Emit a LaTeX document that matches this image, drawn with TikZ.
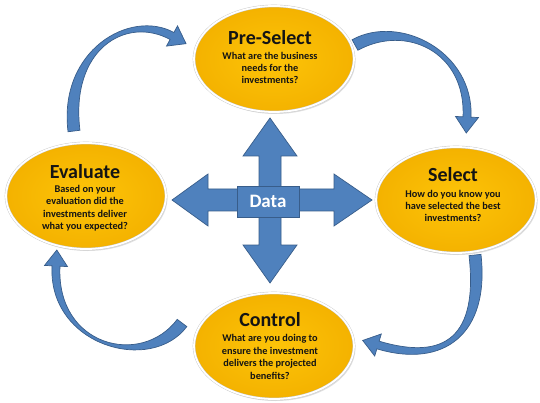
\documentclass[tikz,border=0pt]{standalone}
\usepackage{fontspec}
\setmainfont{Carlito}
\usetikzlibrary{shapes.geometric,calc,shadows}
\definecolor{goldin}{RGB}{253,196,8}
\definecolor{goldout}{RGB}{244,178,0}
\definecolor{bluefill}{RGB}{79,129,189}
\definecolor{blueline}{RGB}{56,93,138}
\definecolor{txt}{RGB}{20,20,20}
\tikzset{
  goldell/.style={ellipse, minimum width=160pt, minimum height=106pt, inner sep=0pt,
    inner color=goldin, outer color=goldout, draw=black!22, double=white, double distance=1.8pt,
    line width=0.4pt, drop shadow={opacity=0.25, shadow xshift=1.5pt, shadow yshift=-2pt}},
  titletext/.style={font=\fontsize{20}{24}\selectfont\bfseries, text=txt, inner sep=0pt},
  bodytext/.style={font=\fontsize{10.3}{12.4}\selectfont\bfseries, text=txt, align=center, inner sep=0pt},
  bluefig/.style={fill=bluefill, draw=blueline, line width=0.7pt, line join=miter},
  databox/.style={bluefig, minimum width=62pt, minimum height=31pt, inner sep=0pt,
    text=white, font=\fontsize{19}{21}\selectfont\bfseries}
}
\newcommand{\bandarrow}[5]{%
  \coordinate (#1p0) at #2;
  \coordinate (#1p1) at #3;
  \coordinate (#1p2) at #4;
  \coordinate (#1p3) at #5;
  \coordinate (#1a0) at ($(#1p0)!6pt!90:(#1p1)$);
  \coordinate (#1b0) at ($(#1p0)!6pt!-90:(#1p1)$);
  \coordinate (#1a1) at ($(#1p1)+(#1a0)-(#1p0)$);
  \coordinate (#1b1) at ($(#1p1)+(#1b0)-(#1p0)$);
  \coordinate (#1a3) at ($(#1p3)!4pt!-90:(#1p2)$);
  \coordinate (#1b3) at ($(#1p3)!4pt!90:(#1p2)$);
  \coordinate (#1a2) at ($(#1p2)+(#1a3)-(#1p3)$);
  \coordinate (#1b2) at ($(#1p2)+(#1b3)-(#1p3)$);
  \coordinate (#1ha) at ($(#1p3)!11.5pt!-90:(#1p2)$);
  \coordinate (#1hb) at ($(#1p3)!11.5pt!90:(#1p2)$);
  \coordinate (#1t) at ($(#1p3)!-16pt!(#1p2)$);
  \filldraw[bluefig] (#1a0) .. controls (#1a1) and (#1a2) .. (#1a3) -- (#1ha) -- (#1t)
    -- (#1hb) -- (#1b3) .. controls (#1b2) and (#1b1) .. (#1b0) -- cycle;
}
\begin{document}
\begin{tikzpicture}[x=1pt,y=-1pt]
\useasboundingbox (0,0) rectangle (540,403);
\fill[white] (0,0) rectangle (540,403);

% curved arrows
\bandarrow{tl}{(74,131)}{(64,50)}{(128,12)}{(172,36)}
\bandarrow{tr}{(355,45)}{(403,18.6)}{(470,52)}{(467,117)}
\bandarrow{br}{(475,255)}{(484,335)}{(445,365)}{(378,345)}
\bandarrow{bl}{(182,323)}{(146,371)}{(52,346)}{(56,266)}

% ellipses
\node[goldell] (pre) at (274,59) {};
\node[goldell] (sel) at (456,200) {};
\node[goldell] (eva) at (86,196) {};
\node[goldell] (con) at (274,346) {};

% texts
\node[titletext] (preT) at (270,38) {Pre-Select};
\node[bodytext] (preB) at (270,68) {What are the business\\needs for the\\investments?};
\node[titletext] (selT) at (453,175) {Select};
\node[bodytext] (selB) at (453,206) {How do you know you\\have selected the best\\investments?};
\node[titletext] (evaT) at (85,172) {Evaluate};
\node[bodytext] (evaB) at (85,208) {Based on your\\evaluation did the\\investments deliver\\what you expected?};
\node[titletext] (conT) at (270,320) {Control};
\node[bodytext] (conB) at (270,357) {What are you doing to\\ensure the investment\\delivers the projected\\benefits?};

% data cross
\filldraw[bluefig] (270,118) -- (297,156) -- (281,156) -- (281,189) -- (334,189) -- (334,174)
  -- (372,200) -- (334,226) -- (334,211) -- (281,211) -- (281,245) -- (297,245) -- (270,283)
  -- (243,245) -- (259,245) -- (259,211) -- (208,211) -- (208,226) -- (172,200) -- (208,174)
  -- (208,189) -- (259,189) -- (259,156) -- (243,156) -- cycle;
\node[databox] (data) at (268,201.5) {Data};
\end{tikzpicture}
\end{document}
